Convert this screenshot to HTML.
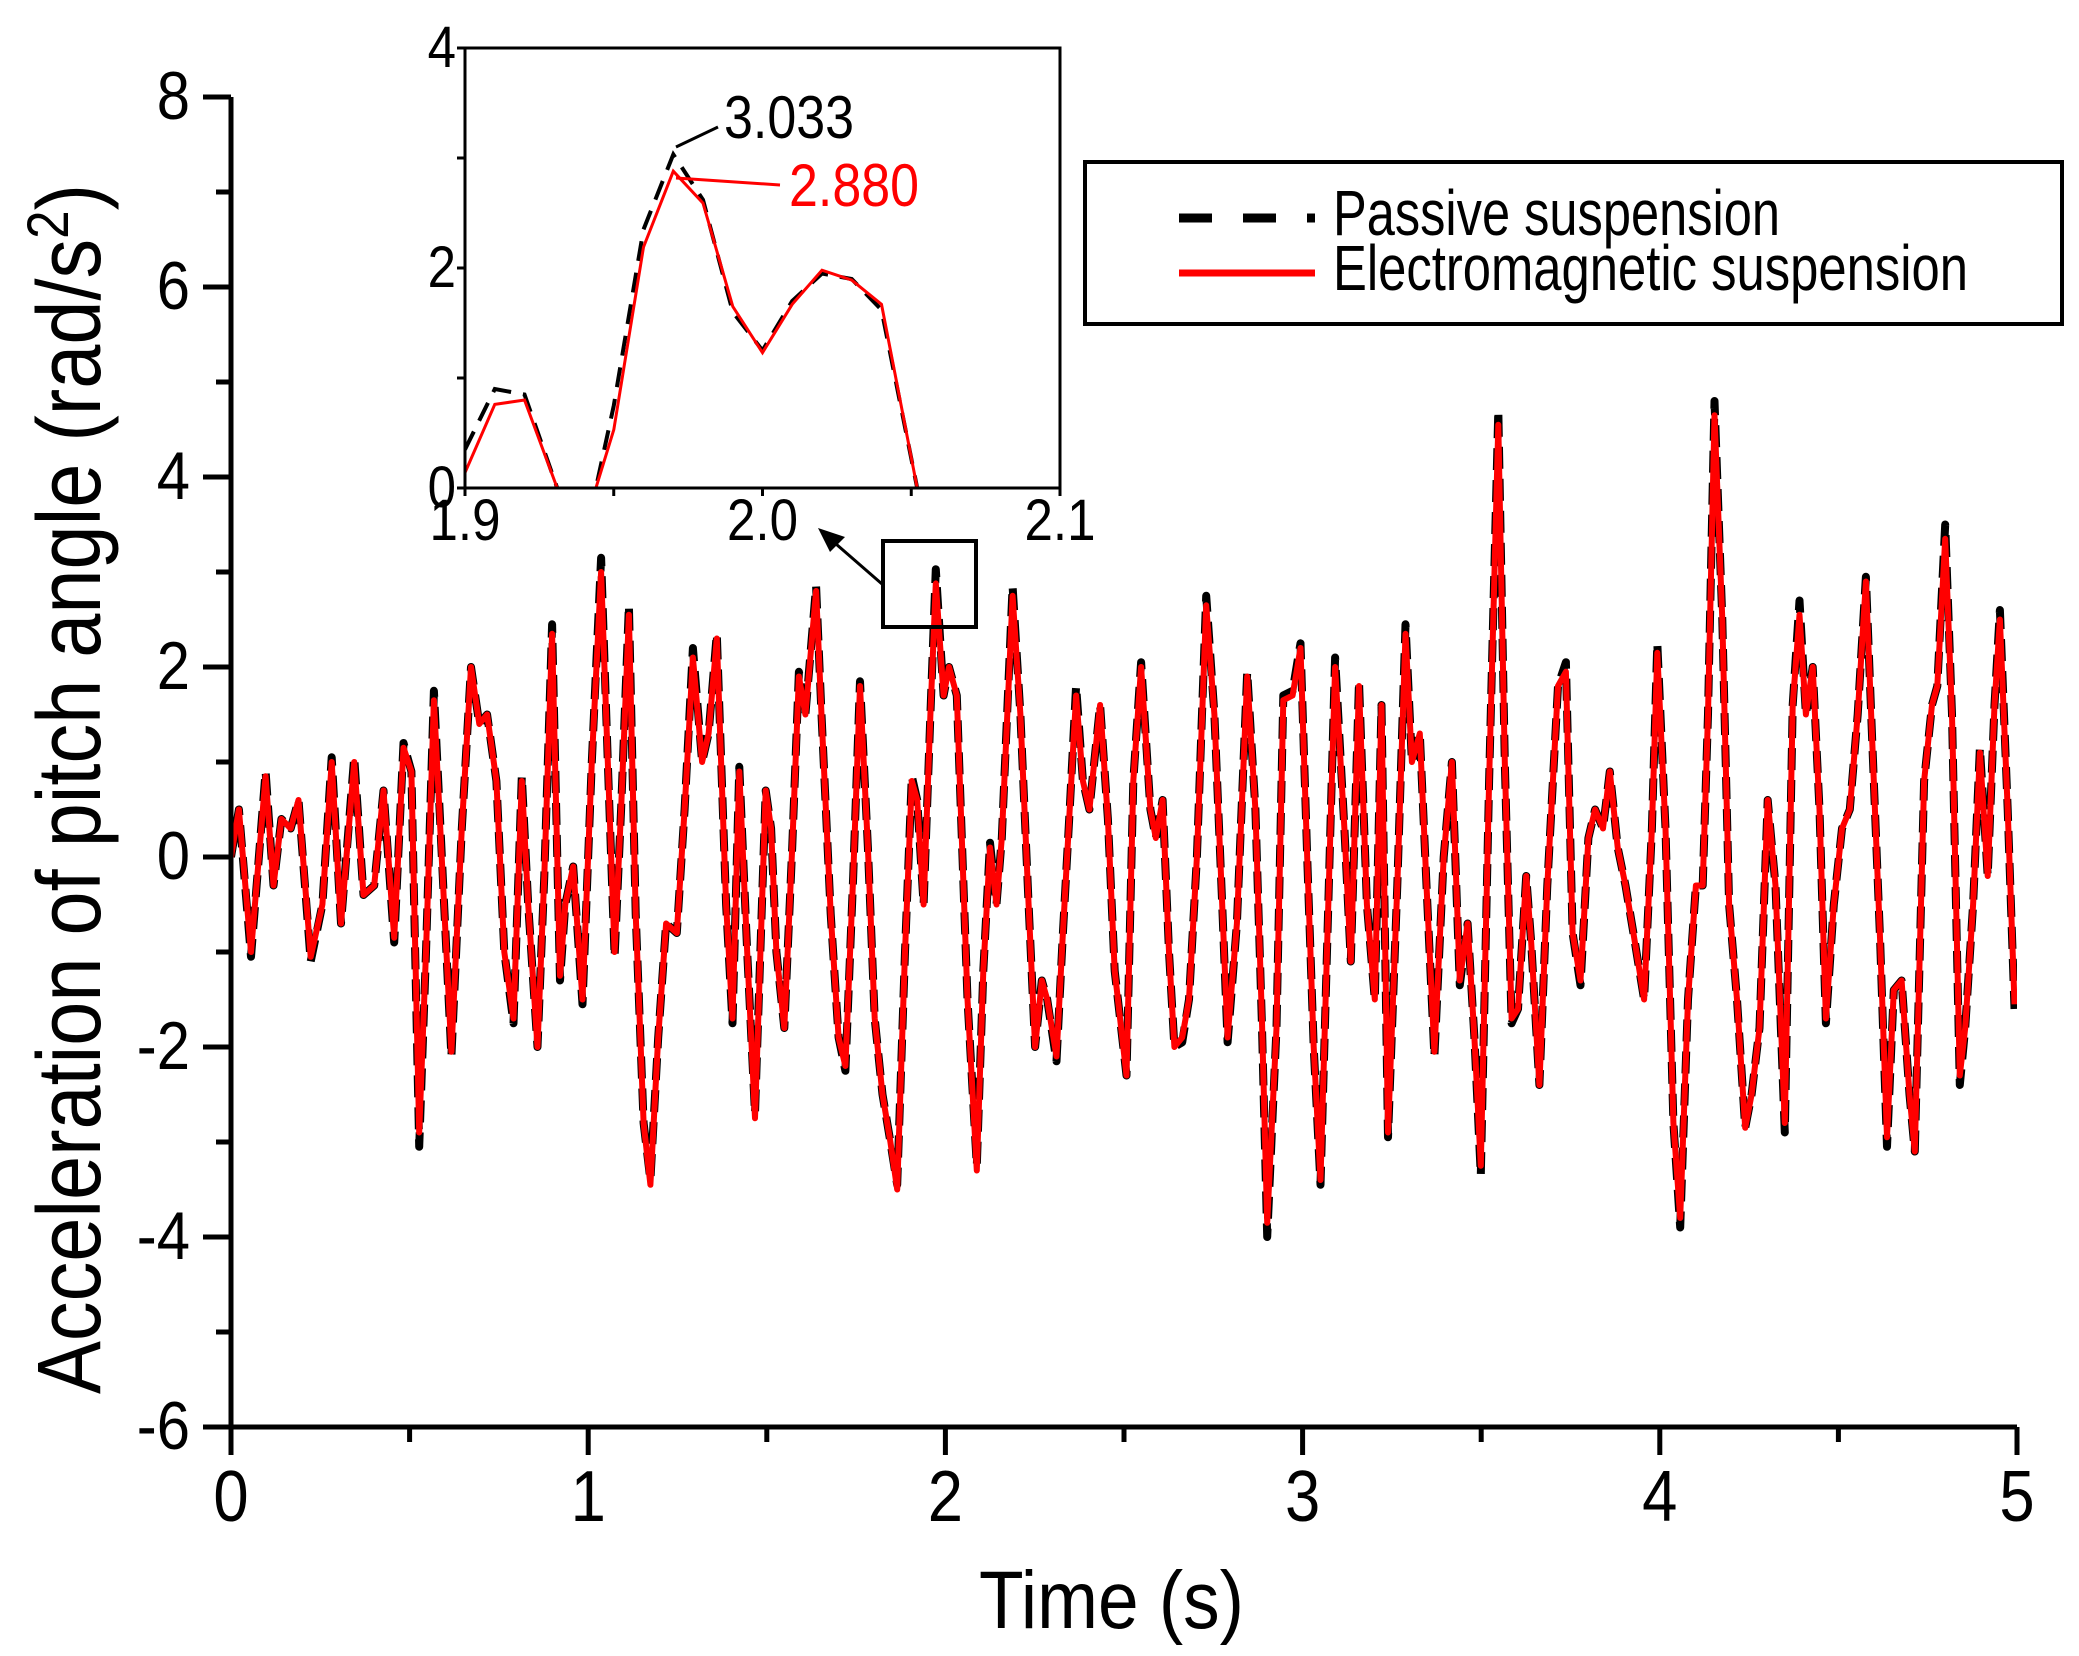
<!DOCTYPE html>
<html><head><meta charset="utf-8"><style>
html,body{margin:0;padding:0;background:#fff;}
svg{display:block;font-family:"Liberation Sans",Arial,sans-serif;}
</style></head><body>
<svg id="chart" width="2079" height="1656" viewBox="0 0 2079 1656" xmlns="http://www.w3.org/2000/svg">
<defs>
<clipPath id="mainClip"><rect x="231" y="97" width="1786" height="1330"/></clipPath>
<clipPath id="insetClip"><rect x="465" y="48" width="595" height="440"/></clipPath>
</defs>
<g id="main"></g>
<g id="inset"></g>
<g id="legend">
<rect x="1085" y="162" width="977" height="162" fill="#fff" stroke="#000" stroke-width="4"/>
<line x1="1179" y1="218" x2="1315" y2="218" stroke="#000" stroke-width="9" stroke-dasharray="33,31"/>
<line x1="1179" y1="273" x2="1315" y2="273" stroke="#f00" stroke-width="7"/>
<text x="1333" y="235" font-size="64" textLength="447" lengthAdjust="spacingAndGlyphs">Passive suspension</text>
<text x="1333" y="290" font-size="64" textLength="635" lengthAdjust="spacingAndGlyphs">Electromagnetic suspension</text>
</g>
</svg>
<script>
// ---- main chart data ----
const times = [0,.022,.056,.097,.119,.141,.167,.189,.223,.256,.282,.308,.345,.371,.401,.427,.457,.483,.505,.527,.546,.568,.617,.646,.672,.695,.717,.743,.765,.791,.814,.832,.858,.877,.899,.921,.936,.958,.984,1.010,1.036,1.055,1.074,1.092,1.114,1.133,1.155,1.174,1.196,1.218,1.248,1.270,1.293,1.319,1.337,1.360,1.386,1.404,1.423,1.445,1.467,1.497,1.512,1.527,1.549,1.571,1.590,1.608,1.638,1.653,1.679,1.701,1.720,1.742,1.761,1.783,1.802,1.824,1.846,1.865,1.887,1.906,1.921,1.939,1.958,1.973,1.995,2.010,2.032,2.062,2.088,2.106,2.125,2.143,2.158,2.188,2.210,2.233,2.251,2.270,2.285,2.311,2.329,2.348,2.366,2.385,2.403,2.433,2.455,2.474,2.507,2.526,2.548,2.574,2.589,2.608,2.626,2.641,2.663,2.682,2.704,2.730,2.753,2.775,2.790,2.816,2.845,2.868,2.886,2.901,2.927,2.946,2.972,2.994,3.013,3.031,3.050,3.072,3.091,3.117,3.135,3.158,3.180,3.202,3.221,3.239,3.265,3.288,3.306,3.328,3.347,3.369,3.395,3.418,3.440,3.462,3.481,3.499,3.522,3.548,3.566,3.585,3.603,3.626,3.640,3.663,3.685,3.715,3.737,3.756,3.778,3.800,3.819,3.841,3.860,3.882,3.904,3.926,3.956,3.978,3.993,4.016,4.038,4.057,4.079,4.101,4.120,4.135,4.153,4.175,4.194,4.216,4.239,4.257,4.279,4.302,4.324,4.350,4.372,4.391,4.409,4.428,4.447,4.465,4.487,4.510,4.532,4.554,4.577,4.595,4.617,4.636,4.655,4.677,4.699,4.714,4.740,4.762,4.777,4.799,4.818,4.840,4.855,4.877,4.896,4.918,4.937,4.952,4.974,4.993];
const passive = [0,.5,-1.05,.9,-.3,.4,.3,.6,-1.1,-.5,1.05,-.7,1.05,-.4,-.3,.7,-.9,1.2,.9,-3.05,-1,1.75,-2.1,.3,2.0,1.4,1.5,.8,-1,-1.75,.85,-.5,-2,-.2,2.45,-1.3,-.5,-.1,-1.55,1,3.15,1,-1.05,.5,2.65,-.6,-2.8,-3.4,-1.9,-.7,-.8,.5,2.2,1,1.3,2.35,-.5,-1.75,.95,-1,-2.7,.7,.3,-1,-1.8,.1,1.95,1.5,2.85,1.5,-.6,-1.9,-2.25,-.2,1.85,.1,-1.7,-2.5,-3.0,-3.45,-1,.85,.6,-.5,1.5,3.03,1.7,2.0,1.7,-1.5,-3.25,-1.2,.15,-.5,.2,2.85,1.5,-.5,-2.0,-1.3,-1.5,-2.15,-.8,.5,1.8,.8,.5,1.6,.4,-1.2,-2.3,.8,2.05,.5,.2,.6,-1,-2,-1.95,-1.5,0,2.75,1.5,-.5,-1.95,-.7,1.95,.5,-1.75,-4.0,-1.8,1.7,1.75,2.25,0,-2,-3.45,-.5,2.1,.3,-1.1,1.85,-.5,-1.5,1.6,-2.95,-.3,2.45,1,1.3,-.3,-2.1,0,1.0,-1.35,-.7,-1.9,-3.35,.8,4.7,1,-1.75,-1.6,-.2,-.9,-2.4,-.3,1.8,2.05,-.8,-1.35,.2,.5,.3,.9,.1,-.3,-.8,-1.5,.3,2.25,.3,-2.8,-3.9,-1.5,-.3,-.3,1.5,4.8,2.5,-.5,-1.5,-2.85,-2.5,-1.8,.6,-.3,-2.9,1.6,2.7,1.5,2.0,.5,-1.75,-.5,.3,.5,1.5,2.95,1.2,-.9,-3.05,-1.4,-1.3,-2.5,-3.1,.8,1.6,1.8,3.5,1.5,-2.4,-1.8,-.5,1.15,-.2,1.6,2.6,.5,-1.6];
const electro = [0,.5,-1.0,.85,-.3,.4,.3,.6,-1.05,-.5,1.0,-.7,1.0,-.4,-.3,.7,-.85,1.15,.9,-2.9,-1,1.65,-2.05,.3,2.0,1.4,1.5,.8,-1,-1.7,.8,-.5,-2,-.2,2.35,-1.25,-.5,-.1,-1.5,1,3.0,1,-1.0,.5,2.55,-.6,-2.8,-3.45,-1.9,-.7,-.8,.5,2.1,1,1.3,2.3,-.5,-1.7,.9,-1,-2.75,.7,.3,-1,-1.8,.1,1.9,1.5,2.8,1.5,-.6,-1.9,-2.2,-.2,1.8,.1,-1.7,-2.5,-3.0,-3.5,-1,.8,.6,-.5,1.5,2.88,1.7,2.0,1.7,-1.5,-3.3,-1.2,.1,-.5,.2,2.75,1.5,-.5,-2.0,-1.3,-1.5,-2.1,-.8,.5,1.7,.8,.5,1.6,.4,-1.2,-2.3,.8,2.0,.5,.2,.6,-1,-2,-1.9,-1.5,0,2.65,1.5,-.5,-1.9,-.7,1.9,.5,-1.7,-3.85,-1.8,1.65,1.7,2.2,0,-2,-3.4,-.5,2.0,.3,-1.1,1.8,-.5,-1.5,1.6,-2.9,-.3,2.35,1,1.3,-.3,-2.05,0,1.0,-1.3,-.7,-1.9,-3.25,.8,4.55,1,-1.7,-1.6,-.2,-.9,-2.4,-.3,1.8,1.95,-.8,-1.3,.2,.5,.3,.9,.1,-.3,-.8,-1.5,.3,2.15,.3,-2.8,-3.8,-1.5,-.3,-.3,1.5,4.65,2.5,-.5,-1.5,-2.85,-2.5,-1.8,.6,-.3,-2.8,1.6,2.55,1.5,2.0,.5,-1.7,-.5,.3,.5,1.5,2.9,1.2,-.9,-2.95,-1.4,-1.3,-2.5,-3.1,.8,1.6,1.8,3.35,1.5,-2.3,-1.8,-.5,1.1,-.2,1.6,2.5,.5,-1.55];
const xTicks = [0,1,2,3,4,5];
const xTickLabels = ["0","1","2","3","4","5"];
const yTicks = [-6,-4,-2,0,2,4,6,8];
const yTickLabels = ["-6","-4","-2","0","2","4","6","8"];
// ---- inset data ----
const insetTimes = [1.900,1.910,1.920,1.931,1.937,1.944,1.950,1.960,1.970,1.980,1.990,2.000,2.010,2.020,2.030,2.040,2.052,2.060];
const insetPassive = [0.35,0.90,0.85,0,-0.8,0,0.75,2.35,3.033,2.62,1.60,1.25,1.70,1.95,1.90,1.62,0,-1];
const insetElectro = [0.14,0.76,0.80,0,-0.8,0,0.53,2.19,2.880,2.59,1.65,1.23,1.67,1.98,1.89,1.67,0,-1];
const insetXTicks = [1.9,2.0,2.1];
const insetXTickLabels = ["1.9","2.0","2.1"];
const insetYTicks = [0,2,4];
const insetYTickLabels = ["0","2","4"];

const NS = "http://www.w3.org/2000/svg";
function mk(tag, attrs, parent){const e=document.createElementNS(NS,tag);for(const k in attrs)e.setAttribute(k,attrs[k]);parent.appendChild(e);return e;}
function digitsLen(s,fs){let w=0;for(const c of s){w+= (c==='-'?0.333:(c==='.'?0.278:0.556));}return w*fs*0.88;}

const X0=231,X1=2017,Y0=1427,Y1=97;
const xs=t=>X0+(t-0)/(5-0)*(X1-X0);
const ys=v=>Y0-(v-(-6))/(8-(-6))*(Y0-Y1);
const main=document.getElementById('main');

function pathFrom(T,V,sx,sy){return T.map((t,i)=>(i?'L':'M')+sx(t).toFixed(1)+','+sy(V[i]).toFixed(1)).join('');}
const gS=mk('g',{'clip-path':'url(#mainClip)'},main);
const pP=mk('path',{d:pathFrom(times,passive,xs,ys),fill:'none',stroke:'#000','stroke-width':8,'stroke-dasharray':'22,10','stroke-linejoin':'round'},gS);


const pE=mk('path',{d:pathFrom(times,electro,xs,ys),fill:'none',stroke:'#f00','stroke-width':6,'stroke-linejoin':'round'},gS);



const ax=mk('path',{d:`M${X0},${Y1}L${X0},${Y0}L${X1},${Y0}`,fill:'none',stroke:'#000','stroke-width':5},main);


for(let v=-6;v<=8;v+=1){const major=(v%2===0);const t=mk('line',{x1:X0,x2:X0-(major?28:15),y1:ys(v),y2:ys(v),stroke:'#000','stroke-width':5},main);

}
for(let k=0;k<=10;k++){const v=k*0.5;const major=(k%2===0);const t=mk('line',{x1:xs(v),x2:xs(v),y1:Y0,y2:Y0+(major?28:15),stroke:'#000','stroke-width':5},main);

}
yTicks.forEach((v,i)=>{const s=yTickLabels[i];const t=mk('text',{x:190,y:ys(v)+22,'font-size':68,'text-anchor':'end',textLength:digitsLen(s,68),lengthAdjust:'spacingAndGlyphs'},main);t.textContent=s;

});
xTicks.forEach((v,i)=>{const s=xTickLabels[i];const t=mk('text',{x:xs(v),y:1521,'font-size':72,'text-anchor':'middle',textLength:digitsLen(s,72),lengthAdjust:'spacingAndGlyphs'},main);t.textContent=s;

});
const xt=mk('text',{x:979,y:1628,'font-size':82,textLength:265,lengthAdjust:'spacingAndGlyphs'},main);xt.textContent='Time (s)';


const yt=mk('text',{x:0,y:0,'font-size':90,transform:'translate(100,1394) rotate(-90)',textLength:1210,lengthAdjust:'spacingAndGlyphs'},main);
yt.innerHTML='Acceleration of pitch angle (rad/s<tspan dy="-32" font-size="58">2</tspan><tspan dy="32">)</tspan>';



const zb=mk('rect',{x:883,y:541,width:93,height:86,fill:'none',stroke:'#000','stroke-width':4},main);


const ar=mk('line',{x1:882,y1:584,x2:836,y2:544,stroke:'#000','stroke-width':3},main);


const ah=mk('polygon',{points:'818,528 845,537 830,552',fill:'#000'},main);



const inset=document.getElementById('inset');


const IX0=465,IX1=1060,IY0=488,IY1=48;
const ixs=t=>IX0+(t-1.9)/(2.1-1.9)*(IX1-IX0);
const iys=v=>IY0-(v-0)/(4-0)*(IY0-IY1);
mk('rect',{x:IX0,y:IY1,width:IX1-IX0,height:IY0-IY1,fill:'#fff'},inset);
const gI=mk('g',{'clip-path':'url(#insetClip)'},inset);
const iP=mk('path',{d:pathFrom(insetTimes,insetPassive,ixs,iys),fill:'none',stroke:'#000','stroke-width':4,'stroke-dasharray':'20,12'},gI);


const iE=mk('path',{d:pathFrom(insetTimes,insetElectro,ixs,iys),fill:'none',stroke:'#f00','stroke-width':3},gI);


const ifr=mk('rect',{x:IX0,y:IY1,width:IX1-IX0,height:IY0-IY1,fill:'none',stroke:'#000','stroke-width':3},inset);


for(let v=0;v<=4;v+=1){const t=mk('line',{x1:IX0,x2:IX0-8,y1:iys(v),y2:iys(v),stroke:'#000','stroke-width':3},inset);

}
for(let k=0;k<=4;k++){const v=1.9+k*0.05;const t=mk('line',{x1:ixs(v),x2:ixs(v),y1:IY0,y2:IY0+8,stroke:'#000','stroke-width':3},inset);

}
insetYTicks.forEach((v,i)=>{const s=insetYTickLabels[i];const t=mk('text',{x:456,y:Math.min(iys(v)+19,IY0+19),'font-size':58,'text-anchor':'end',textLength:digitsLen(s,58),lengthAdjust:'spacingAndGlyphs'},inset);t.textContent=s;

});
insetXTicks.forEach((v,i)=>{const s=insetXTickLabels[i];const t=mk('text',{x:ixs(v),y:540,'font-size':58,'text-anchor':'middle',textLength:digitsLen(s,58),lengthAdjust:'spacingAndGlyphs'},inset);t.textContent=s;

});
const l1=mk('line',{x1:676,y1:147,x2:718,y2:127,stroke:'#000','stroke-width':3},inset);


const a1=mk('text',{x:724,y:138,'font-size':60,textLength:130,lengthAdjust:'spacingAndGlyphs'},inset);a1.textContent='3.033';


const l2=mk('line',{x1:676,y1:178,x2:780,y2:185,stroke:'#f00','stroke-width':3},inset);


const a2=mk('text',{x:789,y:206,'font-size':60,fill:'#f00',textLength:130,lengthAdjust:'spacingAndGlyphs'},inset);a2.textContent='2.880';


</script>
</body></html>
